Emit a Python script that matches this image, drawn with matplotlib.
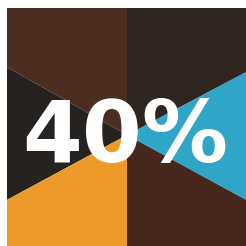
import matplotlib
matplotlib.use("Agg")
import matplotlib.pyplot as plt

# slice sizes in degrees, counter-clockwise starting at the lower right edge of the blue slice
slices = ["blue", "top right", "top left", "left", "bottom left", "bottom right"]
sizes = [56.5, 62.1, 60.5, 57.9, 61.6, 61.4]
colors = ["#2fa6c8", "#2e2420", "#4b2d22", "#262220", "#ee9a2a", "#46281f"]
label = "40%"

fig = plt.figure(figsize=(2.46, 2.46), dpi=100)
# whole figure in pixel units, pie centre at (0, 0)
ax = fig.add_axes([0, 0, 1, 1])
ax.pie(sizes, colors=colors, startangle=-28.6, counterclock=True,
       radius=400, wedgeprops=dict(linewidth=0))
ax.set_xlim(-127, 119)
ax.set_ylim(-111, 135)
ax.set_aspect("auto")
ax.axis("off")

# white paper margin on the left and top
ax.axvspan(-130, -120, color="white", zorder=5, lw=0)
ax.axhspan(127, 140, color="white", zorder=5, lw=0)

ax.text(-1.5, -27, label, color="white", fontsize=62, fontweight="bold",
        family="DejaVu Sans", ha="center", va="baseline", zorder=6)

fig.savefig("out.png", dpi=100)
